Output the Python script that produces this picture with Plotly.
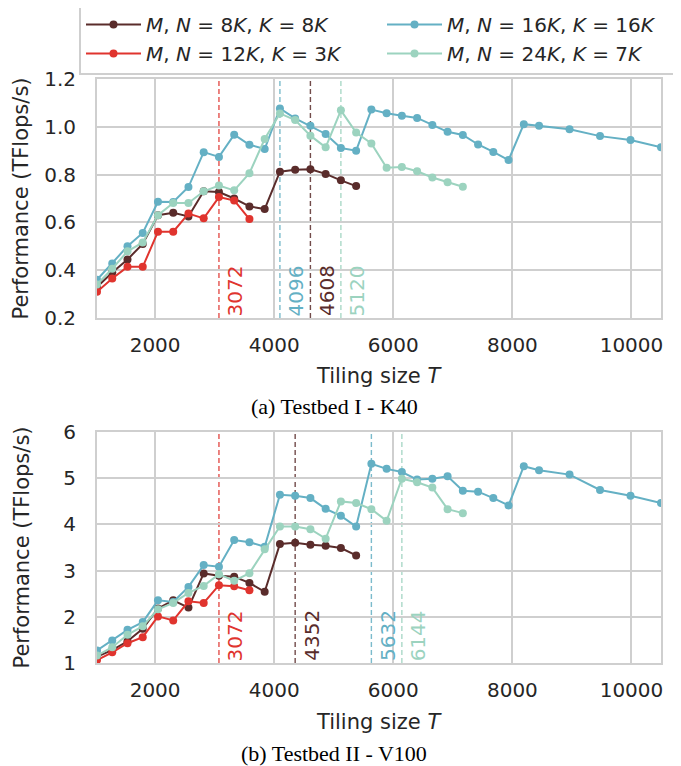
import plotly.graph_objects as go

# ---------------- data ----------------
labels = [
    "<i>M</i>, <i>N</i> = 8<i>K</i>, <i>K</i> = 8<i>K</i>",
    "<i>M</i>, <i>N</i> = 12<i>K</i>, <i>K</i> = 3<i>K</i>",
    "<i>M</i>, <i>N</i> = 16<i>K</i>, <i>K</i> = 16<i>K</i>",
    "<i>M</i>, <i>N</i> = 24<i>K</i>, <i>K</i> = 7<i>K</i>",
]
colors = ["#5a2c2b", "#e0342e", "#64b0c4", "#9cd3bf"]
legend_rank = [1, 3, 2, 4]

x_8k = [1024, 1280, 1536, 1792, 2048, 2304, 2560, 2816, 3072, 3328, 3584, 3840,
        4096, 4352, 4608, 4864, 5120, 5376]
x_12k = [1024, 1280, 1536, 1792, 2048, 2304, 2560, 2816, 3072, 3328, 3584]
x_16k = [1024, 1280, 1536, 1792, 2048, 2304, 2560, 2816, 3072, 3328, 3584, 3840,
         4096, 4352, 4608, 4864, 5120, 5376, 5632, 5888, 6144, 6400, 6656, 6912,
         7168, 7424, 7680, 7936, 8192, 8448, 8960, 9472, 9984, 10496]
x_24k = [1024, 1280, 1536, 1792, 2048, 2304, 2560, 2816, 3072, 3328, 3584, 3840,
         4096, 4352, 4608, 4864, 5120, 5376, 5632, 5888, 6144, 6400, 6656, 6912, 7168]

# (a) Testbed I - K40
k40_8k = [0.33, 0.39, 0.445, 0.51, 0.63, 0.64, 0.625, 0.73, 0.727, 0.70, 0.667, 0.656,
          0.812, 0.82, 0.822, 0.803, 0.776, 0.752]
k40_12k = [0.31, 0.365, 0.414, 0.414, 0.561, 0.561, 0.637, 0.617, 0.706, 0.692, 0.614]
k40_16k = [0.36, 0.428, 0.50, 0.556, 0.686, 0.685, 0.748, 0.894, 0.874, 0.967, 0.925, 0.907,
           1.077, 1.035, 1.004, 0.970, 0.911, 0.90, 1.072, 1.057, 1.046, 1.037, 1.008, 0.979,
           0.966, 0.926, 0.895, 0.861, 1.011, 1.004, 0.990, 0.961, 0.945, 0.914]
k40_24k = [0.34, 0.406, 0.479, 0.516, 0.63, 0.681, 0.681, 0.730, 0.754, 0.734, 0.806, 0.949,
           1.056, 1.028, 0.963, 0.914, 1.069, 0.976, 0.930, 0.829, 0.832, 0.814, 0.788, 0.768,
           0.749]

# (b) Testbed II - V100
v100_8k = [1.14, 1.28, 1.47, 1.74, 2.18, 2.357, 2.20, 2.938, 2.887, 2.865, 2.734, 2.54,
           3.576, 3.605, 3.562, 3.540, 3.489, 3.329]
v100_12k = [1.065, 1.232, 1.428, 1.559, 2.009, 1.922, 2.335, 2.299, 2.684, 2.662, 2.575]
v100_16k = [1.27, 1.486, 1.718, 1.885, 2.357, 2.32, 2.647, 3.119, 3.083, 3.663, 3.615, 3.518,
            4.643, 4.621, 4.570, 4.338, 4.186, 3.954, 5.311, 5.202, 5.133, 4.97, 4.99, 5.04,
            4.73, 4.708, 4.570, 4.411, 5.260, 5.173, 5.078, 4.745, 4.621, 4.461]
v100_24k = [1.16, 1.341, 1.61, 1.798, 2.161, 2.30, 2.517, 2.669, 2.923, 2.778, 2.945, 3.46,
            3.954, 3.954, 3.896, 3.692, 4.498, 4.461, 4.328, 4.077, 4.99, 4.913, 4.797, 4.33,
            4.244]

# optimal tiling markers: (T, series index)
k40_best = [(3072, 1), (4096, 2), (4608, 0), (5120, 3)]
v100_best = [(3072, 1), (4352, 0), (5632, 2), (6144, 3)]

x_range = [1024, 10496]
x_ticks = [2000, 4000, 6000, 8000, 10000]
x_ticktext = ["2000", "4000", "6000", "8000", "10000"]
k40_yrange = [0.2, 1.2]
k40_ticks = [0.2, 0.4, 0.6, 0.8, 1.0, 1.2]
k40_ticktext = ["0.2", "0.4", "0.6", "0.8", "1.0", "1.2"]
v100_yrange = [1, 6]
v100_ticks = [1, 2, 3, 4, 5, 6]
v100_ticktext = ["1", "2", "3", "4", "5", "6"]

# ---------------- figure ----------------
FONT = "DejaVu Sans"
TXT = "#262626"
GRID = "#cfcfcf"
OFF = 8                      # default page margin of the html body
W, H = 681 - OFF, 766 - OFF
ML, MR, MT, MB = 97 - OFF, 20, 79 - OFF, 103
PW = W - ML - MR
PH = H - MT - MB


def py(p):  # window pixel y -> paper y
    return (H - MB - (p - OFF)) / PH


def px(p):  # window pixel x -> paper x
    return ((p - OFF) - ML) / PW


fig = go.Figure()
xs = [x_8k, x_12k, x_16k, x_24k]
panels = [([k40_8k, k40_12k, k40_16k, k40_24k], "x", "y", True),
          ([v100_8k, v100_12k, v100_16k, v100_24k], "x2", "y2", False)]
for ys, xa, ya, show in panels:
    for i in range(4):
        fig.add_trace(go.Scatter(
            x=xs[i], y=ys[i], xaxis=xa, yaxis=ya, mode="lines+markers",
            name=labels[i], legendrank=legend_rank[i], showlegend=show,
            line=dict(color=colors[i], width=2),
            marker=dict(color=colors[i], size=8),
            cliponaxis=True,
        ))

annotations = []
shapes = []
for best, xr, yr in [(k40_best, "x", "y"), (v100_best, "x2", "y2")]:
    for t, si in best:
        shapes.append(dict(type="line", xref=xr, yref=yr + " domain", x0=t, x1=t, y0=0, y1=1,
                           line=dict(color=colors[si], width=1.4, dash="5px,3px"), opacity=0.85,
                           layer="below"))
        annotations.append(dict(text=str(t), xref=xr, yref=yr + " domain", x=t, y=0,
                                xanchor="center", yanchor="bottom", xshift=16, textangle=-90,
                                showarrow=False, font=dict(family=FONT, size=20, color=colors[si])))

# axis titles and captions
for yc, xc in [(py((79 + 318) / 2), px(21)), (py((432 + 663) / 2), px(21))]:
    annotations.append(dict(text="Performance (TFlops/s)", xref="paper", yref="paper",
                            x=xc, y=yc, xanchor="center", yanchor="middle", textangle=-90,
                            showarrow=False, font=dict(family=FONT, size=21, color=TXT)))
for yc in [py(376), py(722)]:
    annotations.append(dict(text="Tiling size <i>T</i>", xref="paper", yref="paper",
                            x=0.5, y=yc, xanchor="center", yanchor="middle",
                            showarrow=False, font=dict(family=FONT, size=21, color=TXT)))
for txt, yc in [("(a) Testbed I - K40", py(406)), ("(b) Testbed II - V100", py(753))]:
    annotations.append(dict(text=txt, xref="paper", yref="paper", x=px(334), y=yc,
                            xanchor="center", yanchor="middle", showarrow=False,
                            font=dict(family="Liberation Serif", size=22, color="#000000")))

axis_common = dict(showgrid=True, gridcolor=GRID, gridwidth=1.8, zeroline=False,
                   showline=True, linecolor=GRID, linewidth=2, mirror=True,
                   ticks="", tickfont=dict(family=FONT, size=20, color=TXT))

fig.update_layout(
    width=W, height=H,
    margin=dict(l=ML, r=MR, t=MT, b=MB, autoexpand=False),
    paper_bgcolor="white", plot_bgcolor="white",
    font=dict(family=FONT, color=TXT),
    xaxis=dict(domain=[0, 1], anchor="y", range=x_range, tickvals=x_ticks,
               ticktext=x_ticktext, ticklabelstandoff=8, **axis_common),
    yaxis=dict(domain=[py(318), 1], anchor="x", range=k40_yrange, tickvals=k40_ticks,
               ticktext=k40_ticktext, ticklabelstandoff=15, **axis_common),
    xaxis2=dict(domain=[0, 1], anchor="y2", range=x_range, tickvals=x_ticks,
                ticktext=x_ticktext, ticklabelstandoff=8, **axis_common),
    yaxis2=dict(domain=[0, py(432)], anchor="x2", range=v100_yrange, tickvals=v100_ticks,
                ticktext=v100_ticktext, ticklabelstandoff=15, **axis_common),
    legend=dict(orientation="h", x=px(79), xanchor="left", y=py(3), yanchor="top",
                entrywidth=231, entrywidthmode="pixels",
                bordercolor=GRID, borderwidth=2, bgcolor="white",
                font=dict(family=FONT, size=20, color=TXT), itemwidth=55),
    shapes=shapes,
    annotations=annotations,
)

fig.write_html("out.html")
